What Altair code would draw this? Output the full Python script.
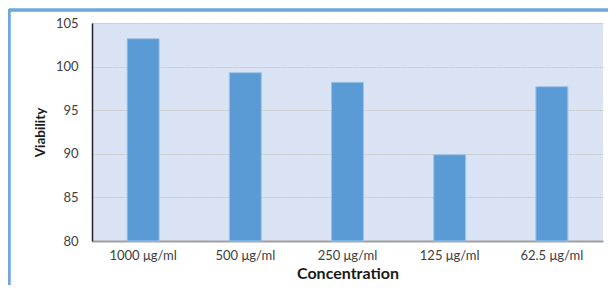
import altair as alt
import pandas as pd

concentration = ["1000 μg/ml", "500 μg/ml", "250 μg/ml", "125 μg/ml", "62.5 μg/ml"]
viability = [103.2, 99.3, 98.2, 89.9, 97.7]
y_ticks = [80, 85, 90, 95, 100, 105]
y_base = 80

df = pd.DataFrame({"Concentration": concentration, "Viability": viability})

FONT = "Lato"

bars = alt.Chart(df).mark_bar(
    color="#5B9BD5", stroke="#9DC3E6", strokeWidth=1
).encode(
    x=alt.X(
        "Concentration:N",
        sort=concentration,
        scale=alt.Scale(paddingInner=0.687, paddingOuter=0.344),
        axis=alt.Axis(
            title="Concentration", labelAngle=0, ticks=False, labelPadding=8,
            labelFontSize=13, labelColor="#404040", labelFont=FONT,
            titleFont=FONT, titleFontSize=16, titleFontWeight="bold",
            titleColor="#1a1a1a", titlePadding=3,
            domainColor="#A0A0A0", domainWidth=2, grid=False,
        ),
    ),
    y=alt.Y(
        "Viability:Q",
        scale=alt.Scale(domain=[80, 105], nice=False, zero=False),
        axis=alt.Axis(
            title="Viability", values=y_ticks, ticks=False, labelPadding=14,
            labelFontSize=13, labelColor="#404040", labelFont=FONT,
            titleFont=FONT, titleFontSize=13.5, titleFontWeight="bold",
            titleColor="#1a1a1a", titlePadding=8,
            domainColor="#222222", domainWidth=1.5,
            grid=True, gridColor="#C8C8C8", gridDash=[2, 1], gridWidth=1,
        ),
    ),
    y2=alt.datum(y_base),
)

frame_top = alt.Chart(df).mark_rule(color="#6FA8DC", strokeWidth=2.5).encode(
    x=alt.value(-83), x2=alt.value(520), y=alt.value(-13)
)
frame_left = alt.Chart(df).mark_rule(color="#6FA8DC", strokeWidth=2.5).encode(
    x=alt.value(-83), y=alt.value(-14), y2=alt.value(270)
)

chart = alt.layer(bars, frame_top, frame_left).properties(
    width=511, height=218,
    autosize=alt.AutoSizeParams(type="none"),
    padding={"left": 84, "top": 15, "right": 5, "bottom": 44},
    background="white",
).configure_view(fill="#DAE3F3", stroke=None)

chart.save("out.html", embed_options={"renderer": "svg", "actions": False})
